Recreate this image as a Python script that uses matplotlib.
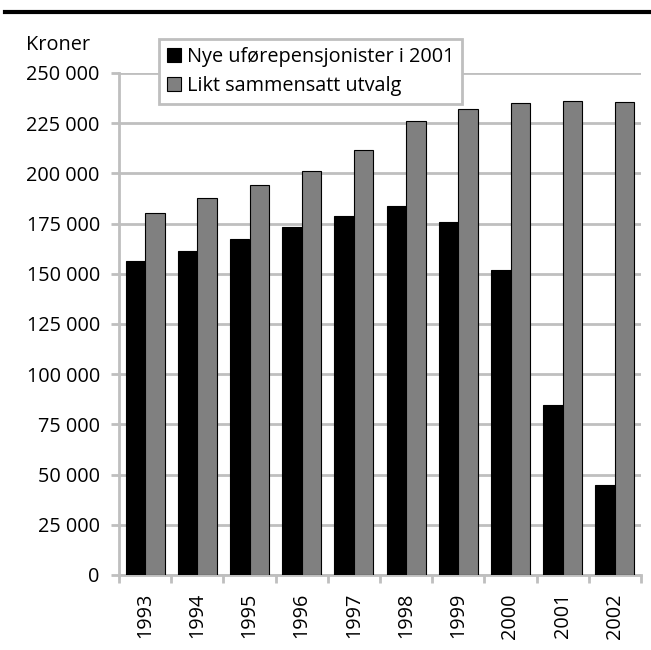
import matplotlib
matplotlib.use("Agg")
import matplotlib.pyplot as plt
import numpy as np
from matplotlib.lines import Line2D
from matplotlib.ticker import FuncFormatter

years = ["1993", "1994", "1995", "1996", "1997", "1998", "1999", "2000", "2001", "2002"]
nye = [156500, 161300, 167300, 173200, 178700, 183700, 175800, 151800, 84700, 44800]
likt = [180200, 187700, 194200, 201200, 211600, 226100, 232000, 235100, 236000, 235500]
yticks = list(range(0, 250001, 25000))

plt.rcParams['font.family'] = ['Open Sans', 'DejaVu Sans']
FS = 14.3
fig = plt.figure(figsize=(6.51, 6.5), dpi=100)
ax = fig.add_axes([119/651, 1-575/650, (641-119)/651, (575-73)/650])

x = np.arange(len(years))
w = 0.373
grid_c = '#bfbfbf'
ax.bar(x - w/2, nye, w, color='black', edgecolor='black', linewidth=0.8,
       label='Nye uførepensjonister i 2001', zorder=3)
ax.bar(x + w/2, likt, w, color='#808080', edgecolor='black', linewidth=0.8,
       label='Likt sammensatt utvalg', zorder=3)

ax.set_xlim(-0.5, len(years) - 0.5)
ax.set_ylim(0, 250000)
ax.set_yticks(yticks)
ax.yaxis.set_major_formatter(FuncFormatter(lambda v, p: f"{int(v):,}".replace(",", " ")))
ax.yaxis.grid(True, color=grid_c, linewidth=2, zorder=0)
ax.set_xticks(x)
ax.set_xticklabels(years, rotation=90)
ax.set_xticks(np.arange(-0.5, len(years)), minor=True)
ax.tick_params(axis='x', which='major', length=0, pad=13, labelsize=FS)
ax.tick_params(axis='x', which='minor', length=5.8, width=2, color=grid_c)
ax.tick_params(axis='y', length=5.8, width=2, color=grid_c, labelsize=FS, pad=8)
for s in ['top', 'right']:
    ax.spines[s].set_visible(False)
for s in ['left', 'bottom']:
    ax.spines[s].set_color(grid_c)
    ax.spines[s].set_linewidth(2)

fig.text(26/651, 1-45/650, 'Kroner', fontsize=FS, ha='left', va='center')

leg = ax.legend(loc='upper left', bbox_to_anchor=(40/522, 1 + 34/502), fontsize=FS,
                frameon=True, fancybox=False, edgecolor=grid_c, framealpha=1,
                handlelength=0.7, handleheight=0.7, handletextpad=0.3,
                borderpad=0.4, labelspacing=0.45, borderaxespad=0.0)
leg.get_frame().set_linewidth(2)
leg.set_zorder(5)

fig.add_artist(Line2D([5/651, 1], [1-12/650, 1-12/650], color='black', linewidth=3))

fig.savefig('out.png', dpi=100)
